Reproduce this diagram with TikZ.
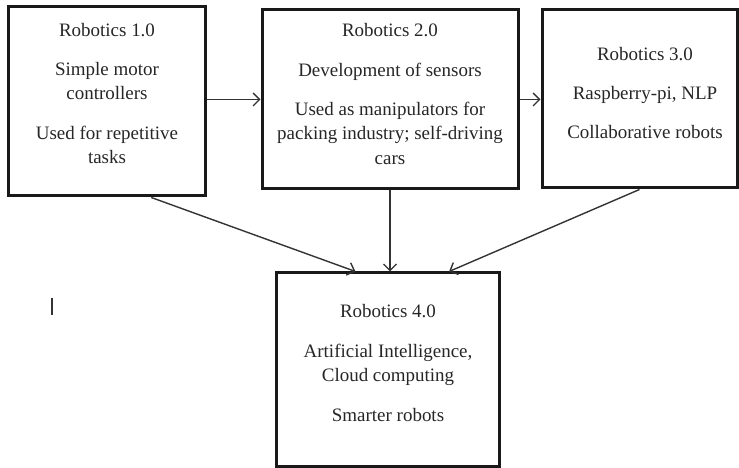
\documentclass[tikz,border=0pt]{standalone}
\usepackage{fontspec}
\setmainfont{Liberation Serif}
\usepackage{tikz}
\usetikzlibrary{positioning}
\usetikzlibrary{arrows.meta}

\tikzset{
  stage/.style={draw=black!90, line width=0.06cm, inner sep=0pt},
  stagetext/.style={align=center, text=black!85, font=\fontsize{10.8}{13.9}\selectfont},
  flow/.style={draw=black!80, line width=0.028cm, -{Straight Barb[length=1.3mm,width=2.6mm]}}
}

\begin{document}
\begin{tikzpicture}
\useasboundingbox (0,0) rectangle (14.78,9.36);
%frames
\node[stage, minimum width=3.94cm, minimum height=3.78cm] (r1) at (2.13,7.33) {};
\node[stage, minimum width=5.12cm, minimum height=3.58cm] (r2) at (7.80,7.37) {};
\node[stage, minimum width=3.90cm, minimum height=3.56cm] (r3) at (12.79,7.38) {};
\node[stage, minimum width=4.46cm, minimum height=3.88cm] (r4) at (7.75,1.96) {};
%texts
\node[stagetext] (t1) at (2.14,7.49) {Robotics 1.0\\[8.5pt] Simple motor\\ controllers\\[8.5pt] Used for repetitive\\ tasks};
\node[stagetext] (t2) at (7.80,7.48) {Robotics 2.0\\[8.5pt] Development of sensors\\[8.5pt] Used as manipulators for\\ packing industry; self-driving\\ cars};
\node[stagetext] (t3) at (12.90,7.50) {Robotics 3.0\\[8.5pt] Raspberry-pi, NLP\\[8.5pt] Collaborative robots};
\node[stagetext] (t4) at (7.76,2.10) {Robotics 4.0\\[8.5pt] Artificial Intelligence,\\ Cloud computing\\[8.5pt] Smarter robots};
%arrows
\draw[flow] (r2.west -| r1.east) -- (r2.west);
\draw[flow] (r2.east) -- (r2.east -| r3.west);
\draw[flow] (r1.-65) -- (r4.108);
\draw[flow] (r2.south) -- (r2.south |- r4.north);
\draw[flow] (r3.south) -- (r4.58);
%mark
\coordinate (m1) at (1.04,3.40);
\coordinate (m2) at (1.04,3.06);
\draw[black!80, line width=0.04cm] (m1) -- (m2);
\end{tikzpicture}
\end{document}
